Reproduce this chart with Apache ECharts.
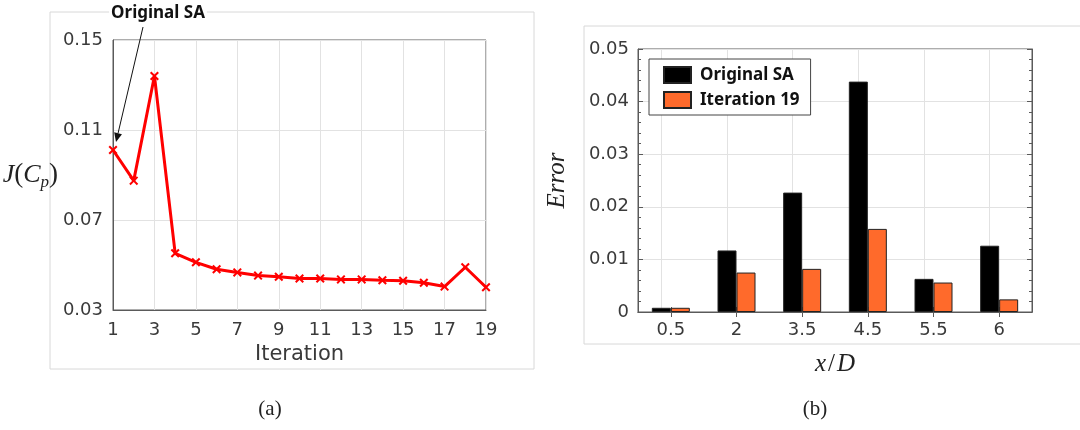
<!DOCTYPE html>
<html>
<head>
<meta charset="utf-8">
<script src="https://cdn.jsdelivr.net/npm/echarts@6/dist/echarts.min.js"></script>
<style>
    body { margin: 0; background: #fff; }
    #main { width: 1080px; height: 430px; }
</style>
</head>
<body>
<div id="main"></div>
<script>
// (a) 반복 횟수별 J(Cp)
var iterations = [1, 2, 3, 4, 5, 6, 7, 8, 9, 10, 11, 12, 13, 14, 15, 16, 17, 18, 19];
var jCp = [0.1011, 0.0875, 0.1340, 0.0552, 0.0512, 0.0481, 0.0467, 0.0453, 0.0448, 0.0440,
    0.0440, 0.0436, 0.0436, 0.0432, 0.0430, 0.0421, 0.0404, 0.0490, 0.0401];
var jTicks = [0.03, 0.07, 0.11, 0.15];
var iterTicks = [1, 3, 5, 7, 9, 11, 13, 15, 17, 19];

// (b) x/D 위치별 오차
var xdLabels = ['0.5', '2', '3.5', '4.5', '5.5', '6'];
var errOriginal = [0.0008, 0.0117, 0.0227, 0.0438, 0.0063, 0.0126];
var errIter19 = [0.0008, 0.0075, 0.0082, 0.0158, 0.0056, 0.0024];
var errTicks = [0, 0.01, 0.02, 0.03, 0.04, 0.05];

var labelFont = 'DejaVu Sans';
var mathFont = 'Liberation Serif';
var axisColor = '#5a5a5a';
var gridColor = '#e2e2e2';
var textColor = '#3a3a3a';

var lineData = iterations.map(function (it, i) {
    return [it, jCp[i]];
});

var cross = 'path://M0,1.6L1.6,0L5,3.4L8.4,0L10,1.6L6.6,5L10,8.4L8.4,10L5,6.6L1.6,10L0,8.4L3.4,5Z';

var chart = echarts.init(document.getElementById('main'));

var option = {
    backgroundColor: '#fff',
    animation: false,
    grid: [
        {left: 113, top: 40, width: 373, height: 270, show: true, borderColor: axisColor, borderWidth: 1, backgroundColor: '#fff'},
        {left: 638, top: 49, width: 394, height: 263, show: true, borderColor: axisColor, borderWidth: 1, backgroundColor: '#fff'}
    ],
    xAxis: [
        {
            gridIndex: 0,
            type: 'value',
            min: iterTicks[0],
            max: iterTicks[iterTicks.length - 1],
            interval: iterTicks[1] - iterTicks[0],
            axisLine: {show: true, lineStyle: {color: axisColor}},
            axisTick: {show: false},
            splitLine: {show: true, lineStyle: {color: gridColor}},
            axisLabel: {fontFamily: labelFont, fontSize: 18, color: textColor, margin: 11},
            name: 'Iteration',
            nameLocation: 'middle',
            nameGap: 34,
            nameTextStyle: {fontFamily: labelFont, fontSize: 21, color: textColor}
        },
        {
            gridIndex: 1,
            type: 'category',
            data: xdLabels,
            axisLine: {show: true, lineStyle: {color: axisColor}},
            axisTick: {show: true, inside: true, alignWithLabel: true, length: 5, lineStyle: {color: axisColor}},
            splitLine: {show: false},
            axisLabel: {fontFamily: labelFont, fontSize: 18, color: textColor, margin: 9},
            name: '{i|x}{n|/}{i|D}',
            nameLocation: 'middle',
            nameGap: 40,
            nameTextStyle: {
                rich: {
                    i: {fontFamily: mathFont, fontStyle: 'italic', fontSize: 25, color: '#222'},
                    n: {fontFamily: mathFont, fontSize: 25, color: '#222', padding: [0, 2]}
                }
            }
        },
        {
            // 위쪽 눈금용
            gridIndex: 1,
            type: 'category',
            position: 'top',
            data: xdLabels,
            axisLine: {show: true, lineStyle: {color: axisColor}},
            axisTick: {show: true, inside: true, alignWithLabel: true, length: 5, lineStyle: {color: axisColor}},
            axisLabel: {show: false},
            splitLine: {show: false}
        }
    ],
    yAxis: [
        {
            gridIndex: 0,
            type: 'value',
            min: jTicks[0],
            max: jTicks[jTicks.length - 1],
            interval: jTicks[1] - jTicks[0],
            axisLine: {show: true, lineStyle: {color: axisColor}},
            axisTick: {show: false},
            splitLine: {show: true, lineStyle: {color: gridColor}},
            axisLabel: {
                fontFamily: labelFont, fontSize: 18, color: textColor, margin: 10,
                formatter: function (v) {
                    return v.toFixed(2);
                }
            },
            name: '{i|J}{n|(}{i|C}{s|p}{n|)}',
            nameLocation: 'middle',
            nameRotate: 0,
            nameGap: 50,
            nameTextStyle: {
                rich: {
                    i: {fontFamily: mathFont, fontStyle: 'italic', fontSize: 26, color: '#222', lineHeight: 32},
                    n: {fontFamily: mathFont, fontSize: 27, color: '#222', lineHeight: 32},
                    s: {fontFamily: mathFont, fontStyle: 'italic', fontSize: 17, color: '#222', lineHeight: 32, verticalAlign: 'bottom'}
                }
            }
        },
        {
            gridIndex: 1,
            type: 'value',
            min: errTicks[0],
            max: errTicks[errTicks.length - 1],
            interval: errTicks[1] - errTicks[0],
            axisLine: {show: true, lineStyle: {color: axisColor}},
            axisTick: {show: true, inside: true, length: 5, lineStyle: {color: axisColor}},
            minorTick: {show: true, splitNumber: 5, length: 3, lineStyle: {color: axisColor}},
            splitLine: {show: true, lineStyle: {color: gridColor}},
            axisLabel: {
                fontFamily: labelFont, fontSize: 18, color: textColor, margin: 9,
                formatter: function (v) {
                    return v === 0 ? '0' : v.toFixed(2);
                }
            },
            name: 'Error',
            nameLocation: 'middle',
            nameGap: 68,
            nameTextStyle: {fontFamily: mathFont, fontStyle: 'italic', fontSize: 25, color: '#222'}
        },
        {
            // 오른쪽 눈금용
            gridIndex: 1,
            type: 'value',
            position: 'right',
            min: errTicks[0],
            max: errTicks[errTicks.length - 1],
            interval: errTicks[1] - errTicks[0],
            axisLine: {show: true, lineStyle: {color: axisColor}},
            axisTick: {show: true, inside: true, length: 5, lineStyle: {color: axisColor}},
            minorTick: {show: true, splitNumber: 5, length: 3, lineStyle: {color: axisColor}},
            splitLine: {show: false},
            axisLabel: {show: false}
        }
    ],
    legend: {
        data: ['Original SA', 'Iteration 19'],
        orient: 'vertical',
        left: 649,
        top: 59,
        padding: [7, 11, 6, 14],
        itemWidth: 27,
        itemHeight: 16,
        itemGap: 7,
        borderColor: '#444',
        borderWidth: 1,
        borderRadius: 0,
        backgroundColor: '#fff',
        icon: 'rect',
        textStyle: {fontFamily: 'Noto Sans', fontWeight: 'bold', fontSize: 17, color: '#111', padding: [0, 0, 0, 4]}
    },
    series: [
        {
            name: 'J',
            type: 'line',
            xAxisIndex: 0,
            yAxisIndex: 0,
            data: lineData,
            lineStyle: {color: '#ff0000', width: 3},
            itemStyle: {color: '#ff0000'},
            symbol: cross,
            symbolSize: 9,
            showAllSymbol: true
        },
        {
            name: 'Original SA',
            type: 'bar',
            xAxisIndex: 1,
            yAxisIndex: 1,
            data: errOriginal,
            barWidth: 19,
            barGap: '0%',
            itemStyle: {color: '#000000', borderColor: '#222', borderWidth: 1},
            markLine: {
                // x 눈금 위치 세로 격자선
                silent: true,
                z: 1,
                symbol: 'none',
                label: {show: false},
                lineStyle: {color: gridColor, width: 1, type: 'solid'},
                data: xdLabels.map(function (c) {
                    return {xAxis: c};
                })
            }
        },
        {
            name: 'Iteration 19',
            type: 'bar',
            xAxisIndex: 1,
            yAxisIndex: 1,
            data: errIter19,
            barWidth: 19,
            barGap: '0%',
            itemStyle: {color: '#ff6a2b', borderColor: '#222', borderWidth: 1}
        }
    ]
};

chart.setOption(option);

// 주석 화살표 : 첫 번째 점 기준
var p = chart.convertToPixel({xAxisIndex: 0, yAxisIndex: 0}, lineData[0]);
var start = [p[0] + 30, p[1] - 123];
var end = [p[0] + 3, p[1] - 8];
var ang = Math.atan2(end[1] - start[1], end[0] - start[0]);
var headLen = 9, headW = 4;
var base = [end[0] - headLen * Math.cos(ang), end[1] - headLen * Math.sin(ang)];
var head = [
    end,
    [base[0] + headW * Math.sin(ang), base[1] - headW * Math.cos(ang)],
    [base[0] - headW * Math.sin(ang), base[1] + headW * Math.cos(ang)]
];

chart.setOption({
    graphic: [
        {type: 'rect', z: -10, shape: {x: 50, y: 12, width: 484, height: 357}, style: {fill: 'none', stroke: '#d8d8d8', lineWidth: 1}},
        {type: 'rect', z: -10, shape: {x: 584, y: 26, width: 510, height: 318}, style: {fill: 'none', stroke: '#d8d8d8', lineWidth: 1}},
        {type: 'line', z: 100, shape: {x1: start[0], y1: start[1], x2: base[0], y2: base[1]}, style: {stroke: '#111', lineWidth: 1}},
        {type: 'polygon', z: 100, shape: {points: head}, style: {fill: '#111'}},
        {
            type: 'text', z: 100, x: start[0] + 15, y: start[1] - 14,
            style: {
                text: 'Original SA', fontFamily: 'Noto Sans', fontWeight: 'bold', fontSize: 17, fill: '#111',
                align: 'center', verticalAlign: 'middle', backgroundColor: '#fff', padding: [0, 2]
            }
        },
        {type: 'text', x: 270, y: 409, style: {text: '(a)', fontFamily: mathFont, fontSize: 21, fill: '#222', align: 'center', verticalAlign: 'middle'}},
        {type: 'text', x: 815, y: 409, style: {text: '(b)', fontFamily: mathFont, fontSize: 21, fill: '#222', align: 'center', verticalAlign: 'middle'}}
    ]
});
</script>
</body>
</html>
